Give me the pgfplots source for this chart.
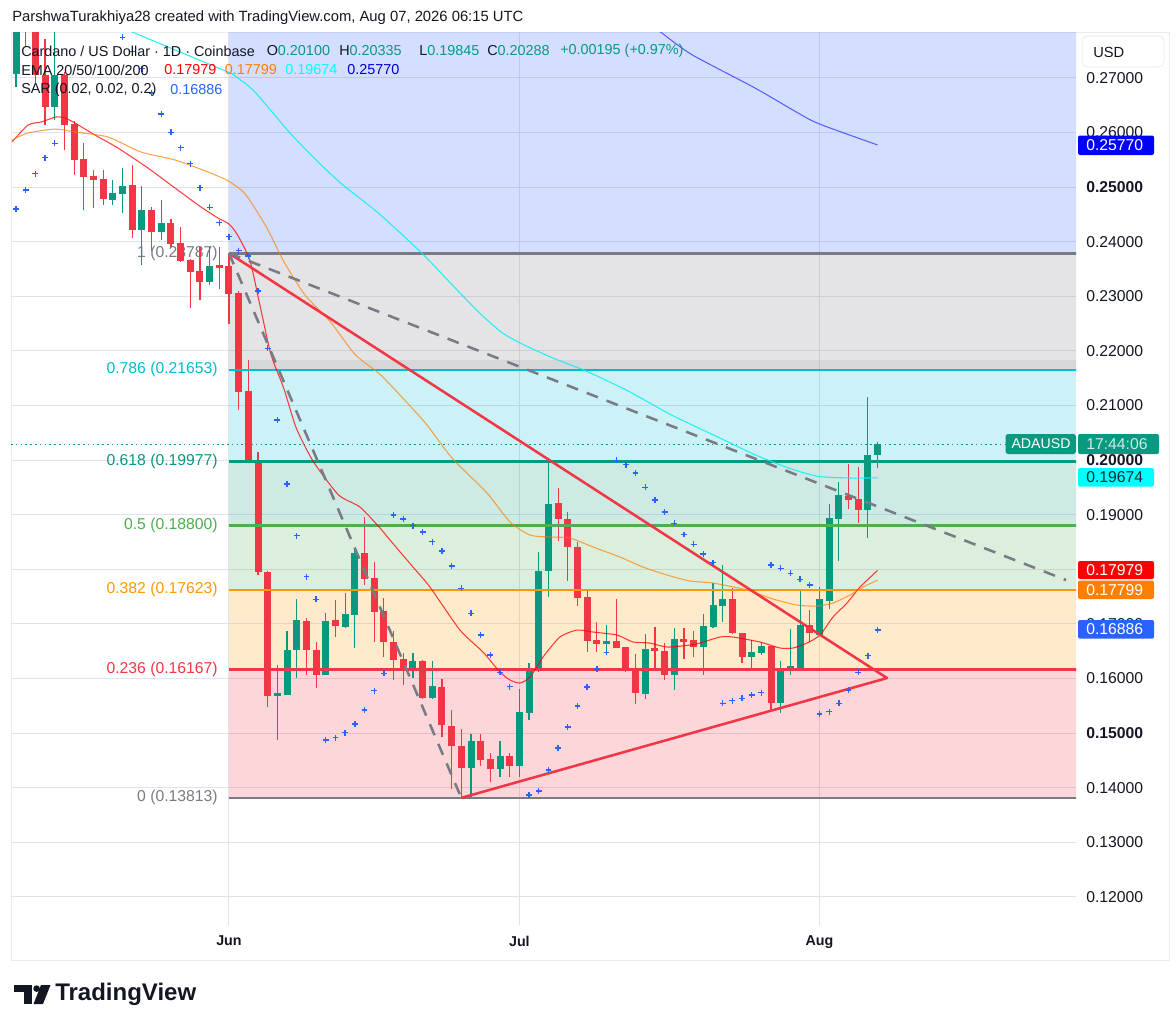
\documentclass[border=0pt]{standalone}
\usepackage{pgfplots}
\pgfplotsset{compat=1.18}
\usepackage{pgfplotstable}
\usepackage{fontspec}
\setmainfont{Liberation Sans}

\definecolor{txt}{HTML}{131722}
\definecolor{up}{HTML}{089981}
\definecolor{dn}{HTML}{F23645}
\definecolor{fgrey}{HTML}{787B86}
\definecolor{fcyan}{HTML}{00BCD4}
\definecolor{fgreen}{HTML}{4CAF50}
\definecolor{forange}{HTML}{FF9800}
\definecolor{fblue}{HTML}{2962FF}
\definecolor{emaA}{HTML}{FF0000}
\definecolor{emaB}{HTML}{FF8000}
\definecolor{emaC}{HTML}{00FFFF}
\definecolor{emaD}{HTML}{0000FF}
\definecolor{sar}{HTML}{2962FF}
\definecolor{gridc}{HTML}{E0E3EB}

\newcommand\fs[1]{\fontsize{#1}{#1}\selectfont}

% day offset from 1 June, open, high, low, close
\pgfplotstableread{
d o h l c
-22 0.2708 0.2850 0.2684 0.2820
-18 0.2648 0.2783 0.2623 0.2705
-12 0.2476 0.2513 0.2467 0.2488
-11 0.2488 0.2534 0.2453 0.2502
-9 0.2421 0.2502 0.2358 0.2457
-7 0.2418 0.2476 0.2403 0.2433
-2 0.2327 0.2391 0.2321 0.2354
5 0.1568 0.1625 0.1487 0.1573
6 0.1571 0.1687 0.1570 0.1652
7 0.1652 0.1745 0.1600 0.1706
10 0.1606 0.1719 0.1606 0.1705
12 0.1695 0.1756 0.1692 0.1717
13 0.1716 0.1838 0.1655 0.1829
19 0.1619 0.1647 0.1600 0.1631
21 0.1565 0.1632 0.1563 0.1585
25 0.1437 0.1498 0.1383 0.1485
28 0.1435 0.1486 0.1419 0.1458
30 0.1441 0.1580 0.1420 0.1538
31 0.1537 0.1628 0.1524 0.1614
32 0.1614 0.1831 0.1612 0.1797
33 0.1797 0.2000 0.1750 0.1919
39 0.1664 0.1698 0.1652 0.1668
43 0.1573 0.1681 0.1562 0.1654
46 0.1606 0.1692 0.1579 0.1672
49 0.1658 0.1718 0.1606 0.1695
50 0.1694 0.1775 0.1693 0.1734
51 0.1733 0.1807 0.1704 0.1745
54 0.1639 0.1670 0.1617 0.1647
55 0.1647 0.1664 0.1643 0.1659
57 0.1556 0.1632 0.1536 0.1617
58 0.1618 0.1690 0.1606 0.1622
59 0.1620 0.1761 0.1615 0.1697
61 0.1681 0.1767 0.1681 0.1744
62 0.1742 0.1919 0.1728 0.1894
63 0.1893 0.1960 0.1815 0.1936
66 0.1910 0.2115 0.1858 0.2009
67 0.2010 0.20335 0.19845 0.20288
}\upc

\pgfplotstableread{
d o h l c
-21 0.2820 0.2860 0.2758 0.2798
-20 0.2798 0.2820 0.2690 0.2705
-19 0.2705 0.2772 0.2614 0.2648
-17 0.2705 0.2710 0.2568 0.2614
-16 0.2614 0.2620 0.2522 0.2550
-15 0.2550 0.2580 0.2458 0.2519
-14 0.2520 0.2531 0.2461 0.2514
-13 0.2515 0.2531 0.2467 0.2478
-10 0.2504 0.2541 0.2406 0.2421
-8 0.2457 0.2464 0.2382 0.2418
-6 0.2433 0.2441 0.2390 0.2397
-5 0.2397 0.2427 0.2362 0.2366
-4 0.2366 0.2368 0.2278 0.2345
-3 0.2345 0.2391 0.2293 0.2327
-1 0.2356 0.2391 0.2314 0.2352
0 0.2354 0.23787 0.2250 0.2305
1 0.2306 0.2310 0.2092 0.2125
2 0.2126 0.2183 0.1998 0.2000
3 0.2000 0.2014 0.1789 0.1796
4 0.1794 0.1796 0.1548 0.1568
8 0.1704 0.1710 0.1606 0.1652
9 0.1652 0.1667 0.1582 0.1606
11 0.1707 0.1744 0.1676 0.1696
14 0.1829 0.1896 0.1771 0.1783
15 0.1783 0.1814 0.1667 0.1722
16 0.1722 0.1747 0.1639 0.1667
17 0.1667 0.1687 0.1598 0.1635
18 0.1635 0.1647 0.1588 0.1619
20 0.1632 0.1634 0.1563 0.1565
22 0.1584 0.1599 0.1493 0.1515
23 0.1513 0.1542 0.1397 0.1476
24 0.1476 0.1507 0.13813 0.1437
26 0.1485 0.1498 0.1440 0.1452
27 0.1452 0.1463 0.1411 0.1435
29 0.1458 0.1463 0.1420 0.1441
34 0.1921 0.1949 0.1852 0.1892
35 0.1892 0.1905 0.1779 0.1841
36 0.1841 0.1849 0.1733 0.1748
37 0.1748 0.1762 0.1648 0.1669
38 0.1670 0.1703 0.1649 0.1663
40 0.1668 0.1745 0.1657 0.1657
41 0.1657 0.1657 0.1611 0.1617
42 0.1618 0.1645 0.1554 0.1574
44 0.1655 0.1695 0.1620 0.1650
45 0.1649 0.1664 0.1597 0.1606
47 0.1672 0.1692 0.1635 0.1667
48 0.1669 0.1687 0.1639 0.1658
52 0.1745 0.1765 0.1682 0.1683
53 0.1683 0.1683 0.1628 0.1639
56 0.1658 0.1660 0.1539 0.1556
60 0.1697 0.1725 0.1667 0.1683
64 0.1934 0.1993 0.1910 0.1927
65 0.1928 0.1987 0.1885 0.1910
}\dnc

\pgfplotstableread{
d p
-22.42 0.25824
-20.76 0.26136
-19.42 0.26190
-17.87 0.26282
-16.94 0.26264
-15.91 0.26172
-13.84 0.25952
-11.47 0.25714
-8.37 0.25348
-5.58 0.24982
-2.89 0.24634
-1.14 0.24432
0 0.24322
0.87 0.24126
2.17 0.23645
3.26 0.22784
4.34 0.21929
5.65 0.21319
6.95 0.20586
8.68 0.19982
11.30 0.19364
13.53 0.19139
15.60 0.18755
16.63 0.18535
19.01 0.18040
20.76 0.17674
23.86 0.16886
26.24 0.16484
27.99 0.16117
29.03 0.15971
30.06 0.15916
31.10 0.16026
32.44 0.16392
34.19 0.16758
35.95 0.16886
37.60 0.16850
40.08 0.16795
41.74 0.16667
43.49 0.16648
45.25 0.16575
47.62 0.16612
48.66 0.16648
50.72 0.16758
52.07 0.16758
54.86 0.16667
56.92 0.16557
58.26 0.16557
59.71 0.16648
61.05 0.16795
62.40 0.17125
63.84 0.17381
65.19 0.17674
67 0.17979
}\emaa

\pgfplotstableread{
d p
-22.42 0.25861
-20.76 0.25989
-17.98 0.26062
-15.91 0.26007
-12.50 0.25916
-9.09 0.25641
-5.58 0.25495
-2.17 0.25275
0 0.25104
1.74 0.24859
3.92 0.24249
5.65 0.23639
7.83 0.23027
10.43 0.22540
13.05 0.21929
15.65 0.21562
18.26 0.21075
20.43 0.20647
23.04 0.20037
26.65 0.19396
29.03 0.18864
31.10 0.18626
33.16 0.18590
35.23 0.18571
37.60 0.18407
40.39 0.18223
42.77 0.18040
45.25 0.17894
47.62 0.17784
50.00 0.17747
53.51 0.17619
56.20 0.17454
58.68 0.17344
60.74 0.17326
62.40 0.17381
64.15 0.17527
65.50 0.17674
67 0.17799
}\emab

\pgfplotstableread{
d p
-15.39 0.28242
-9.92 0.27833
-0.10 0.27106
0.43 0.27057
2.61 0.26753
6.30 0.25989
9.13 0.25471
11.74 0.25042
15.22 0.24555
18.26 0.24066
20.43 0.23700
23.04 0.23211
26.08 0.22661
28.26 0.22326
30.43 0.22112
33.47 0.21868
36.95 0.21625
41.30 0.21258
45.65 0.20830
50.00 0.20463
54.34 0.20097
57.83 0.19853
60.87 0.19701
64.35 0.19670
67 0.19674
}\emac

\pgfplotstableread{
d p
42.46 0.28114
44.57 0.27839
47.83 0.27423
54.34 0.26813
60.02 0.26233
63.05 0.26020
67 0.25770
}\emad

\pgfplotstableread{
d p
-22 0.24597
-21 0.24945
-20 0.25244
-19 0.25537
-18 0.25800
-11 0.27742
-10 0.27485
-9 0.27167
-8 0.26722
-7 0.26337
-6 0.26002
-5 0.25720
-4 0.25427
-3 0.24987
-2 0.24628
-1 0.24346
0 0.24090
1 0.23833
2 0.23736
3 0.23095
4 0.22046
5 0.20733
6 0.19560
7 0.18614
8 0.17863
9 0.17449
10 0.14872
11 0.14914
12 0.15005
13 0.15165
14 0.15421
15 0.15775
16 0.16093
17 0.18993
18 0.18919
19 0.18797
20 0.18681
21 0.18504
22 0.18333
23 0.18059
24 0.17650
25 0.17192
26 0.16795
27 0.16429
28 0.16112
29 0.15848
31 0.13864
32 0.13938
33 0.14322
34 0.14725
35 0.15110
36 0.15495
37 0.15842
38 0.16172
39 0.16478
40 0.19995
41 0.19914
42 0.19762
43 0.19500
44 0.19267
45 0.19048
46 0.18841
47 0.18636
48 0.18456
49 0.18278
50 0.18119
51 0.15544
52 0.15592
53 0.15636
54 0.15696
55 0.15738
56 0.18077
57 0.18016
58 0.17925
59 0.17815
60 0.17711
61 0.15348
62 0.15390
63 0.15544
64 0.15788
65 0.16112
66 0.16416
67 0.16886
}\sart

\begin{document}
\begin{tikzpicture}[x=0.75pt,y=-0.75pt]
\path[use as bounding box, fill=white] (0,0) rectangle (1176,1029);
\draw[color=gridc!70, line width=0.75pt] (11,32) rectangle (1169,960);

\begin{axis}[
  at={(8.25pt,-693.75pt)}, anchor=south west,
  scale only axis, width=798.75pt, height=669.75pt,
  xmin=-22.52, xmax=87.5, ymin=0.11484, ymax=0.27839,
  axis line style={draw=none},
  major tick length=0pt,
  xtick={0,30,61}, xticklabels={Jun,Jul,Aug},
  ytick={0.12,0.13,0.14,0.15,0.16,0.17,0.18,0.19,0.20,0.21,0.22,0.23,0.24,0.25,0.26,0.27},
  yticklabels={0.12000,0.13000,0.14000,\textbf{0.15000},0.16000,0.17000,0.18000,0.19000,\textbf{0.20000},0.21000,0.22000,0.23000,0.24000,\textbf{0.25000},0.26000,0.27000},
  yticklabel pos=right,
  xmajorgrids, ymajorgrids,
  major grid style={draw=gridc, line width=0.75pt},
  yticklabel style={anchor=west, inner sep=0pt, xshift=7.5pt, font=\fs{11.8}, text=txt},
  xticklabel style={anchor=north, inner sep=0pt, yshift=-8pt, font=\bfseries\fs{10.7}, text=txt},
  candle/.style={draw=none, mark=none, error bars/.cd, y dir=both, y explicit, error mark=none},
]
% Fibonacci zones
\addplot[draw=none, fill=fblue, fill opacity=0.2] coordinates {(0,0.23787) (90,0.23787) (90,0.30) (0,0.30)};
\addplot[draw=none, fill=fgrey, fill opacity=0.2] coordinates {(0,0.21653) (90,0.21653) (90,0.23787) (0,0.23787)};
\addplot[draw=none, fill=fgrey, fill opacity=0.12] coordinates {(2.2,0.21653) (90,0.21653) (90,0.2183) (2.2,0.2183)};
\addplot[draw=none, fill=fcyan, fill opacity=0.2] coordinates {(0,0.19977) (90,0.19977) (90,0.21653) (0,0.21653)};
\addplot[draw=none, fill=up, fill opacity=0.2] coordinates {(0,0.18800) (90,0.18800) (90,0.19977) (0,0.19977)};
\addplot[draw=none, fill=fgreen, fill opacity=0.2] coordinates {(0,0.17623) (90,0.17623) (90,0.18800) (0,0.18800)};
\addplot[draw=none, fill=forange, fill opacity=0.2] coordinates {(0,0.16167) (90,0.16167) (90,0.17623) (0,0.17623)};
\addplot[draw=none, fill=dn, fill opacity=0.2] coordinates {(0,0.13813) (90,0.13813) (90,0.16167) (0,0.16167)};

% Fib labels
\node[anchor=east, inner sep=0pt, text=fgrey, font=\fs{11.8}] at (axis cs:-1.14,0.23787) {1 (0.23787)};
\node[anchor=east, inner sep=0pt, text=fcyan, font=\fs{11.8}] at (axis cs:-1.14,0.21653) {0.786 (0.21653)};
\node[anchor=east, inner sep=0pt, text=up, font=\fs{11.8}] at (axis cs:-1.14,0.19977) {0.618 (0.19977)};
\node[anchor=east, inner sep=0pt, text=fgreen, font=\fs{11.8}] at (axis cs:-1.14,0.18800) {0.5 (0.18800)};
\node[anchor=east, inner sep=0pt, text=forange, font=\fs{11.8}] at (axis cs:-1.14,0.17623) {0.382 (0.17623)};
\node[anchor=east, inner sep=0pt, text=dn, font=\fs{11.8}] at (axis cs:-1.14,0.16167) {0.236 (0.16167)};
\node[anchor=east, inner sep=0pt, text=fgrey, font=\fs{11.8}] at (axis cs:-1.14,0.13813) {0 (0.13813)};

% last price line
\addplot[up, line width=0.75pt, dash pattern=on 1.2pt off 2.4pt] coordinates {(-22.52,0.20288) (80.17,0.20288)};

% candles: wicks and bodies
\addplot[candle, error bar style={line width=0.9pt, draw=up}]
  table[x=d, y expr={0.5*(\thisrow{h}+\thisrow{l})}, y error expr={0.5*(\thisrow{h}-\thisrow{l})}] {\upc};
\addplot[candle, error bar style={line width=0.9pt, draw=dn}]
  table[x=d, y expr={0.5*(\thisrow{h}+\thisrow{l})}, y error expr={0.5*(\thisrow{h}-\thisrow{l})}] {\dnc};
\addplot[candle, error bar style={line width=5.25pt, draw=up}]
  table[x=d, y expr={0.5*(\thisrow{o}+\thisrow{c})}, y error expr={0.5*(\thisrow{c}-\thisrow{o})+0.00006}] {\upc};
\addplot[candle, error bar style={line width=5.25pt, draw=dn}]
  table[x=d, y expr={0.5*(\thisrow{o}+\thisrow{c})}, y error expr={0.5*(\thisrow{o}-\thisrow{c})+0.00006}] {\dnc};

% Fib level lines
\addplot[fgrey, line width=1.9pt] coordinates {(0,0.23787) (90,0.23787)};
\addplot[fcyan, line width=1.9pt] coordinates {(0,0.21653) (90,0.21653)};
\addplot[up, line width=1.9pt] coordinates {(0,0.19977) (90,0.19977)};
\addplot[fgreen, line width=1.9pt] coordinates {(0,0.18800) (90,0.18800)};
\addplot[forange, line width=1.9pt] coordinates {(0,0.17623) (90,0.17623)};
\addplot[dn, line width=1.9pt] coordinates {(0,0.16167) (90,0.16167)};
\addplot[fgrey, line width=1.9pt] coordinates {(0,0.13813) (90,0.13813)};

% EMAs
\addplot[emaA, opacity=0.75, line width=0.8pt, smooth, tension=0.4] table[x=d,y=p] {\emaa};
\addplot[emaB, opacity=0.7, line width=0.8pt, smooth, tension=0.4] table[x=d,y=p] {\emab};
\addplot[emaC!80!fcyan, opacity=0.85, line width=0.8pt, smooth, tension=0.4] table[x=d,y=p] {\emac};
\addplot[emaD!80!white, opacity=0.75, line width=0.8pt, smooth, tension=0.4] table[x=d,y=p] {\emad};

% Parabolic SAR
\addplot[only marks, mark=+, mark size=2.2pt, color=sar, mark options={line width=1pt}] table[x=d,y=p] {\sart};

% triangle
\addplot[dn, line width=1.9pt, line join=round] coordinates {(0,0.23787) (67.98,0.16007) (24,0.13813)};
% dashed lines
\addplot[fgrey, line width=1.9pt, dash pattern=on 9pt off 7pt] coordinates {(0,0.23787) (86.47,0.17802)};
\addplot[fgrey, line width=1.9pt, dash pattern=on 9pt off 7pt] coordinates {(0,0.23787) (24,0.13813)};
\end{axis}

% header
\node[anchor=west, inner sep=0pt, text=txt, font=\fs{11.1}] at (12,18) {ParshwaTurakhiya28 created with TradingView.com, Aug 07, 2026 06:15 UTC};

% legend
\begin{scope}[every node/.style={anchor=west, inner sep=0pt, font=\fs{10.8}, text=txt}]
\node at (21,51) {Cardano / US Dollar · 1D · Coinbase};
\node at (266.5,51) {O\textcolor{up}{0.20100}};
\node at (339,51) {H\textcolor{up}{0.20335}};
\node at (419,51) {L\textcolor{up}{0.19845}};
\node at (487,51) {C\textcolor{up}{0.20288}};
\node[text=up] at (560,51) {+0.00195 (+0.97\%)};
\node at (21,70) {EMA 20/50/100/200};
\node[text=emaA] at (164,70) {0.17979};
\node[text=emaB] at (224.5,70) {0.17799};
\node[text=emaC] at (285,70) {0.19674};
\node[text=emaD!80!black] at (347,70) {0.25770};
\node at (21,90) {SAR (0.02, 0.02, 0.2)};
\node[text=sar] at (170,90) {0.16886};
\end{scope}

% price axis boxes
\draw[gridc, fill=white, rounded corners=4pt] (1082,36) rectangle (1164,67);
\node[anchor=west, inner sep=0pt, text=txt, font=\fs{11}] at (1093,52) {USD};
\begin{scope}[every node/.style={anchor=west, inner sep=0pt, font=\fs{11.8}, text=white}]
\fill[emaD, rounded corners=1.5pt] (1078,135.5) rectangle (1154,155);
\node at (1086,145.5) {0.25770};
\fill[up, rounded corners=2pt] (1005.5,434) rectangle (1076,454);
\node[anchor=center, font=\fs{10.6}] at (1041,444) {ADAUSD};
\fill[up, rounded corners=1.5pt] (1078,434) rectangle (1159,454);
\node[text=white!80!up] at (1086,444) {17:44:06};
\fill[emaC, rounded corners=1.5pt] (1078,468) rectangle (1154,486.5);
\node[text=txt!85!up] at (1086,477.5) {0.19674};
\fill[emaA, rounded corners=1.5pt] (1078,561) rectangle (1154,579);
\node at (1086,570) {0.17979};
\fill[emaB, rounded corners=1.5pt] (1078,580.5) rectangle (1154,599);
\node at (1086,590) {0.17799};
\fill[sar, rounded corners=1.5pt] (1078,620) rectangle (1154,638.6);
\node at (1086,629.3) {0.16886};
\end{scope}

% TradingView logo
\fill[txt] (14,985) rectangle (32,992);
\fill[txt] (23.5,985) rectangle (32,1004);
\fill[txt] (36.6,988.6) circle[radius=2.5pt];
\fill[txt] (41,985) -- (50.5,985) -- (43,1004) -- (33.5,1004) -- cycle;
\node[anchor=west, inner sep=0pt, text=txt, font=\bfseries\fs{18}] at (55,994) {TradingView};
\end{tikzpicture}
\end{document}
